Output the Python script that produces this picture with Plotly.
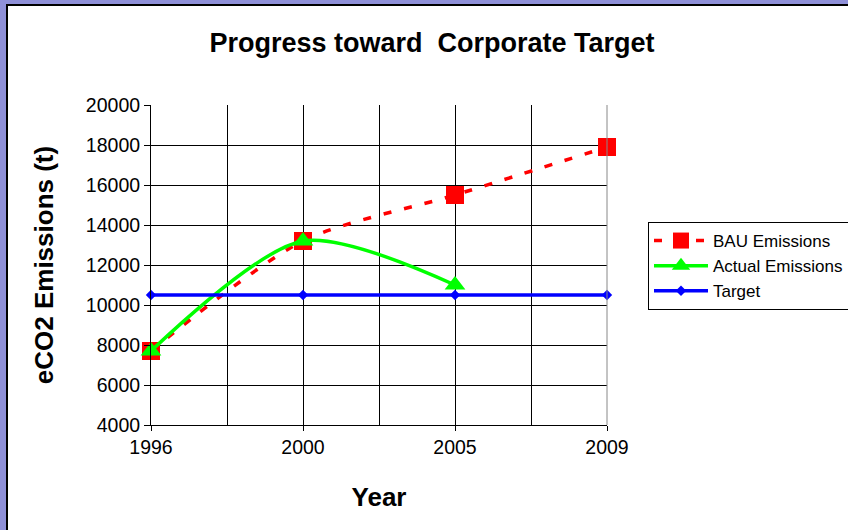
import plotly.graph_objects as go

years = ["1996", "2000", "2005", "2009"]
x_pos = [0, 1, 2, 3]
bau = [7700, 13200, 15500, 17900]
actual_years = [0, 1, 2]
actual = [7700, 13200, 11000]
target = [10500, 10500, 10500, 10500]

W, H = 848, 530
L, R, T, B = 151, 607, 105, 425
pw, ph = R - L, B - T

def px(xp):
    return (xp - L) / pw

def py(yp):
    return (B - yp) / ph

fig = go.Figure()
fig.add_trace(go.Scatter(
    x=x_pos, y=bau, name="BAU Emissions", mode="lines+markers", cliponaxis=False,
    line=dict(color="#ff0000", width=3.5, dash="8px,13px", shape="spline", smoothing=0.8),
    marker=dict(symbol="square", size=18, color="#ff0000"),
))
fig.add_trace(go.Scatter(
    x=actual_years, y=actual, name="Actual Emissions", mode="lines+markers", cliponaxis=False,
    line=dict(color="#00ff00", width=3.5, shape="spline", smoothing=0.8),
    marker=dict(symbol="triangle-up", size=18, color="#00ff00"),
))
fig.add_trace(go.Scatter(
    x=x_pos, y=target, name="Target", mode="lines+markers", cliponaxis=False,
    line=dict(color="#0000ff", width=3.5),
    marker=dict(symbol="diamond", size=8, color="#0000ff"),
))

fig.update_layout(
    width=W, height=H,
    margin=dict(l=L, r=W - R, t=T, b=H - B, pad=0, autoexpand=False),
    paper_bgcolor="#8f90d8",
    plot_bgcolor="white",
    font=dict(family="Liberation Sans, Arial", color="black", size=19.5),
    title=dict(text="<b>Progress toward  Corporate Target</b>", x=432 / W, xanchor="center",
               y=1 - 43 / H, yanchor="middle", font=dict(size=27)),
    showlegend=True,
    legend=dict(x=px(648), y=py(222), xanchor="left", yanchor="top",
                bgcolor="white", bordercolor="black", borderwidth=1,
                font=dict(size=17), tracegroupgap=0, itemwidth=54),
    shapes=[
        dict(type="rect", xref="paper", yref="paper", x0=px(7), x1=px(860),
             y0=py(540), y1=py(5), fillcolor="white", line=dict(color="black", width=2),
             layer="below"),
    ],
)
fig.update_xaxes(
    range=[0, 3], tickmode="array", tickvals=x_pos, ticktext=years,
    showgrid=True, gridcolor="#000000", gridwidth=1,
    showline=True, linecolor="black", linewidth=1, mirror=False,
    ticks="outside", ticklen=5, tickcolor="black",
    minor=dict(tickvals=[0.5, 1.5, 2.5], showgrid=True, gridcolor="#000000", gridwidth=1),
    title=dict(text="<b>Year</b>", font=dict(size=26), standoff=30),
    zeroline=False,
)
fig.update_yaxes(
    range=[4000, 20000], dtick=2000, tick0=4000, tickformat="d",
    showgrid=True, gridcolor="#000000", gridwidth=1,
    showline=True, linecolor="black", linewidth=1,
    ticks="outside", ticklen=6, tickcolor="black",
    title=dict(text="<b>eCO2 Emissions (t)</b>", font=dict(size=26), standoff=24),
    zeroline=False,
)
fig.add_shape(type="line", xref="paper", yref="paper", x0=1, x1=1, y0=0, y1=1,
              line=dict(color="#888888", width=1))

fig.write_html("out.html", config={"displayModeBar": False},
               post_script="document.body.style.margin='0';")
